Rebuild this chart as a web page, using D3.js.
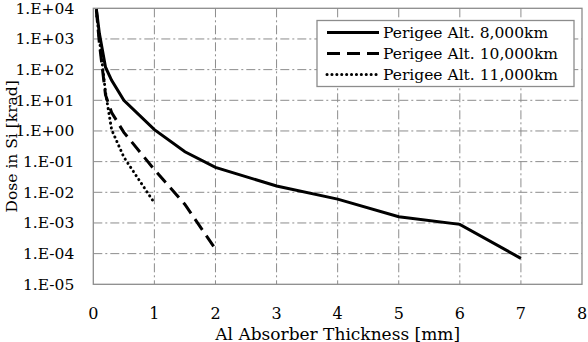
<!DOCTYPE html>
<html>
<head>
<meta charset="utf-8">
<script src="https://cdn.jsdelivr.net/npm/d3@7"></script>
<style>
  body { margin: 0; background: #fff; }
  svg { display: block; font-family: "DejaVu Serif", serif; }
</style>
</head>
<body>
<script>
//-----------------Data----------------
const thickness8k = [0.05, 0.1, 0.2, 0.3, 0.5, 1, 1.5, 2, 3, 4, 5, 6, 7];
const dose8k = [9500, 1500, 120, 45, 10, 1.1, 0.21, 0.065, 0.016, 0.006, 0.0016, 0.0009, 0.00007];

const thickness10k = [0.05, 0.1, 0.2, 0.3, 0.5, 1, 1.5, 2];
const dose10k = [9000, 700, 15, 4, 0.9, 0.055, 0.004, 0.00014];

const thickness11k = [0.05, 0.1, 0.2, 0.3, 0.5, 1];
const dose11k = [8000, 1000, 18, 1.1, 0.14, 0.0045];

const seriesNames = ["Perigee Alt. 8,000km", "Perigee Alt. 10,000km", "Perigee Alt. 11,000km"];

const xTickValues = [0, 1, 2, 3, 4, 5, 6, 7, 8];
const yTickValues = [1e4, 1e3, 1e2, 1e1, 1e0, 1e-1, 1e-2, 1e-3, 1e-4, 1e-5];
const yTickLabels = ["1.E+04", "1.E+03", "1.E+02", "1.E+01", "1.E+00", "1.E-01", "1.E-02", "1.E-03", "1.E-04", "1.E-05"];

//-----------------Svg----------------
const width = 588;
const height = 342;
const margin = { top: 8.3, right: 6, bottom: 57.7, left: 93.3 };

const svg = d3.select("body").append("svg").attr("width", width).attr("height", height);

const x = d3.scaleLinear().domain([0, 8]).range([margin.left, width - margin.right]);
const y = d3.scaleLog().domain([1e-5, 1e4]).range([height - margin.bottom, margin.top]);

const gridColor = "#8c8c8c";

// grid
svg.append("g")
  .selectAll("line")
  .data(yTickValues.slice(1, -1))
  .enter()
  .append("line")
  .attr("x1", x(0)).attr("x2", x(8))
  .attr("y1", (d) => y(d)).attr("y2", (d) => y(d))
  .attr("stroke", gridColor)
  .attr("stroke-width", 1)
  .attr("stroke-dasharray", "9,3,2,3");

svg.append("g")
  .selectAll("line")
  .data(xTickValues.slice(1, -1))
  .enter()
  .append("line")
  .attr("x1", (d) => x(d)).attr("x2", (d) => x(d))
  .attr("y1", y(1e4)).attr("y2", y(1e-5))
  .attr("stroke", gridColor)
  .attr("stroke-width", 1)
  .attr("stroke-dasharray", "9,3,2,3");

// frame
svg.append("rect")
  .attr("x", x(0)).attr("y", y(1e4))
  .attr("width", x(8) - x(0)).attr("height", y(1e-5) - y(1e4))
  .attr("fill", "none")
  .attr("stroke", gridColor)
  .attr("stroke-width", 1.3);

// tick labels
svg.append("g")
  .selectAll("text")
  .data(yTickValues)
  .enter()
  .append("text")
  .attr("x", x(0) - 19)
  .attr("y", (d) => y(d) + 5.5)
  .attr("text-anchor", "end")
  .attr("font-size", 15.5)
  .text((d, i) => yTickLabels[i]);

svg.append("g")
  .selectAll("text")
  .data(xTickValues)
  .enter()
  .append("text")
  .attr("x", (d) => x(d))
  .attr("y", y(1e-5) + 35)
  .attr("text-anchor", "middle")
  .attr("font-size", 16)
  .text((d) => d);

// axis titles
svg.append("text")
  .attr("x", (x(0) + x(8)) / 2)
  .attr("y", 339.5)
  .attr("text-anchor", "middle")
  .attr("font-size", 17)
  .text("Al Absorber Thickness [mm]");

svg.append("text")
  .attr("transform", `translate(17, ${(y(1e4) + y(1e-5)) / 2}) rotate(-90)`)
  .attr("text-anchor", "middle")
  .attr("font-size", 15.5)
  .text("Dose in Si [krad]");

//-----------------Lines----------------
svg.append("clipPath").attr("id", "plot-clip")
  .append("rect")
  .attr("x", x(0)).attr("y", y(1e4))
  .attr("width", x(8) - x(0)).attr("height", y(1e-5) - y(1e4));

const line = d3.line().x((d) => x(d[0])).y((d) => y(d[1]));

const series = [
  { name: seriesNames[0], pts: d3.zip(thickness8k, dose8k), dash: null, cap: "butt" },
  { name: seriesNames[1], pts: d3.zip(thickness10k, dose10k), dash: "13,7", cap: "butt" },
  { name: seriesNames[2], pts: d3.zip(thickness11k, dose11k), dash: "0.1,4.8", cap: "round" },
];

svg.append("g")
  .attr("clip-path", "url(#plot-clip)")
  .selectAll("path")
  .data(series)
  .enter()
  .append("path")
  .attr("d", (d) => line(d.pts))
  .attr("fill", "none")
  .attr("stroke", "#000")
  .attr("stroke-width", 3)
  .attr("stroke-linecap", (d) => d.cap)
  .attr("stroke-dasharray", (d) => d.dash);

//-----------------Legend----------------
const legend = svg.append("g").attr("transform", "translate(317, 20.5)");

legend.append("rect")
  .attr("width", 257).attr("height", 66)
  .attr("fill", "#fff")
  .attr("stroke", gridColor)
  .attr("stroke-width", 1.3);

const legendItem = legend.selectAll("g")
  .data(series)
  .enter()
  .append("g")
  .attr("transform", (d, i) => `translate(0, ${12 + i * 21})`);

legendItem.append("line")
  .attr("x1", 10).attr("x2", 62)
  .attr("stroke", "#000")
  .attr("stroke-width", 3)
  .attr("stroke-linecap", (d) => d.cap)
  .attr("stroke-dasharray", (d) => d.dash);

legendItem.append("text")
  .attr("x", 66)
  .attr("y", 5.5)
  .attr("font-size", 15.5)
  .text((d) => d.name);
</script>
</body>
</html>
